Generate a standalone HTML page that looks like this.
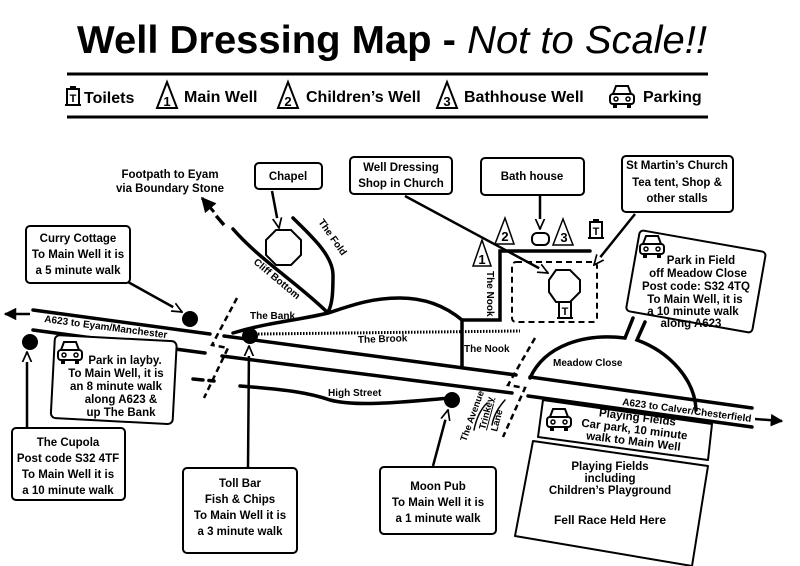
<!DOCTYPE html>
<html><head><meta charset="utf-8"><style>
html,body{margin:0;padding:0;background:#fff;}
svg{display:block;font-family:"Liberation Sans",Arial,sans-serif;}
text{font-weight:bold;fill:#000;}
</style></head><body>
<svg width="800" height="566" viewBox="0 0 800 566" xmlns="http://www.w3.org/2000/svg">
<defs>
<marker id="ah" viewBox="0 0 10 10" refX="9" refY="5" markerWidth="5" markerHeight="5" orient="auto"><path d="M0,0 L10,5 L0,10 z" fill="#000"/></marker>
<marker id="ao" viewBox="0 0 10 10" refX="9" refY="5" markerWidth="4.5" markerHeight="4.5" orient="auto"><path d="M0,1 L9,5 L0,9" fill="#fff" stroke="#000" stroke-width="1.5"/></marker>
<g id="car"><rect x="2" y="10" width="24" height="10" rx="3" fill="#fff" stroke="#000" stroke-width="2"/><path d="M5,10 L8,2 H20 L23,10" fill="none" stroke="#000" stroke-width="2"/><circle cx="8" cy="15" r="2" fill="none" stroke="#000" stroke-width="1.5"/><circle cx="20" cy="15" r="2" fill="none" stroke="#000" stroke-width="1.5"/><rect x="5" y="20" width="4" height="4" fill="#000"/><rect x="19" y="20" width="4" height="4" fill="#000"/></g>
<g id="loo"><rect x="1" y="3" width="12" height="16" fill="#fff" stroke="#000" stroke-width="2"/><rect x="4" y="0" width="6" height="3" fill="#000"/><rect x="-1" y="18" width="16" height="2" fill="#000"/><text x="7" y="16" font-size="11" text-anchor="middle">T</text></g>
</defs>

<!-- Header -->
<text x="77" y="53" font-size="39" textLength="630" lengthAdjust="spacingAndGlyphs">Well Dressing Map - <tspan font-style="italic" font-weight="normal">Not to Scale!!</tspan></text>
<line x1="67" y1="74" x2="708" y2="74" stroke="#000" stroke-width="3"/>
<line x1="67" y1="117" x2="708" y2="117" stroke="#000" stroke-width="3"/>
<use href="#loo" transform="translate(66,86)"/>
<text x="84" y="103" font-size="16">Toilets</text>
<polygon points="167,82 157,108 177,108" fill="#fff" stroke="#000" stroke-width="2"/><text x="167" y="106" font-size="13" text-anchor="middle">1</text>
<text x="184" y="102" font-size="16">Main Well</text>
<polygon points="288,82 278,108 298,108" fill="#fff" stroke="#000" stroke-width="2"/><text x="288" y="106" font-size="13" text-anchor="middle">2</text>
<text x="306" y="102" font-size="16">Children’s Well</text>
<polygon points="447,82 437,108 457,108" fill="#fff" stroke="#000" stroke-width="2"/><text x="447" y="106" font-size="13" text-anchor="middle">3</text>
<text x="464" y="102" font-size="16">Bathhouse Well</text>
<use href="#car" transform="translate(608,84)"/>
<text x="643" y="102" font-size="16">Parking</text>

<g stroke="#000" stroke-width="3.5" fill="none" stroke-linecap="round">
<path d="M33,310 L210,334 M224,336 L516,375 M530,377 L752,408"/>
<path d="M33,330 L205,353 M222,356 L512,393 M528,396 L752,427"/>
<path d="M193,379 L214,381" stroke-dasharray="10 6"/>
<path d="M240,386 C290,390 310,393 330,400 C360,408 420,400 452,398"/>
<path d="M233,333 C270,322 300,320 328,313 C350,306 370,298 400,298 C430,298 450,310 462,320 L462,366"/>
<path d="M462,320 L500,320 L500,251 L590,251"/>
<path d="M233,229 C260,260 300,285 328,313"/>
<path d="M293,218 C310,235 333,255 333,275 C333,295 332,305 328,312"/>
<path d="M530,378 C545,345 585,333 625,338 L633,318"/>
<path d="M645,322 L637,340 C670,352 695,380 696,410"/>
<path d="M487,403 C480,410 476,420 474,430" stroke-width="1.5"/>
<path d="M505,400 C498,408 494,415 492,425" stroke-width="1.5"/>
</g>
<line x1="224" y1="225" x2="212" y2="211" stroke="#000" stroke-width="3.5" stroke-dasharray="12 8"/>
<line x1="214" y1="212" x2="202" y2="198" stroke="#000" stroke-width="3" marker-end="url(#ah)"/>
<path d="M258,334 L520,331" stroke="#000" stroke-width="3" stroke-dasharray="1.5 1.5" fill="none"/>
<g stroke="#000" stroke-width="2.5" fill="none" stroke-dasharray="6 4">
<path d="M237,298 L212,345 L228,348 L204,398"/>
<path d="M535,338 L508,385 L525,388 L503,437"/>
</g>
<line x1="30" y1="314" x2="5" y2="314" stroke="#000" stroke-width="2.5" marker-end="url(#ah)"/>
<line x1="755" y1="419" x2="782" y2="421" stroke="#000" stroke-width="2.5" marker-end="url(#ah)"/>
<text font-size="10" transform="translate(44,322) rotate(7.5)">A623 to Eyam/Manchester</text>
<text font-size="10" transform="translate(622,405) rotate(7.5)">A623 to Calver/Chesterfield</text>
<text font-size="10" x="250" y="319">The Bank</text>
<text font-size="10" transform="translate(358,343) rotate(-2)">The Brook</text>
<text font-size="10" x="464" y="352">The Nook</text>
<text font-size="10" x="328" y="396">High Street</text>
<text font-size="10" x="553" y="366">Meadow Close</text>
<text font-size="10" transform="translate(253,263) rotate(40)">Cliff Bottom</text>
<text font-size="10" transform="translate(318,222) rotate(55)">The Fold</text>
<text font-size="10" transform="translate(487,271) rotate(90)">The Nook</text>
<text font-size="9.5" transform="translate(466,442) rotate(-70)">The Avenue</text>
<text font-size="9.5" text-decoration="underline" transform="translate(485,430) rotate(-75)">Trinkey</text>
<text font-size="9.5" transform="translate(497,432) rotate(-75)">Lane</text>

<circle cx="190" cy="319" r="8" fill="#000"/>
<circle cx="30" cy="342" r="8" fill="#000"/>
<circle cx="250" cy="336" r="8" fill="#000"/>
<circle cx="452" cy="400" r="8" fill="#000"/>

<text font-size="11.5" x="170" y="178" text-anchor="middle">Footpath to Eyam</text>
<text font-size="11.5" x="170" y="192" text-anchor="middle">via Boundary Stone</text>

<rect x="255" y="163" width="67" height="26" rx="4" fill="#fff" stroke="#000" stroke-width="2"/>
<text font-size="11.5" x="288" y="180" text-anchor="middle">Chapel</text>
<line x1="272" y1="191" x2="279" y2="228" stroke="#000" stroke-width="2.5" marker-end="url(#ao)"/>
<polygon points="276,230 291,230 301,240 301,255 291,265 276,265 266,255 266,240" fill="#fff" stroke="#000" stroke-width="2"/>

<rect x="350" y="157" width="102" height="37" rx="4" fill="#fff" stroke="#000" stroke-width="2"/>
<text font-size="11.5" x="401" y="171" text-anchor="middle">Well Dressing</text>
<text font-size="11.5" x="401" y="187" text-anchor="middle">Shop in Church</text>
<line x1="405" y1="196" x2="548" y2="273" stroke="#000" stroke-width="2.5" marker-end="url(#ao)"/>

<rect x="481" y="158" width="103" height="37" rx="4" fill="#fff" stroke="#000" stroke-width="2"/>
<text font-size="11.5" x="532" y="180" text-anchor="middle">Bath house</text>
<line x1="540" y1="196" x2="540" y2="229" stroke="#000" stroke-width="2.5" marker-end="url(#ao)"/>
<rect x="532" y="233" width="17" height="12" rx="5" fill="#fff" stroke="#000" stroke-width="2"/>
<polygon points="482,240 473,266 491,266" fill="#fff" stroke="#000" stroke-width="1.5"/><text font-size="13" x="482" y="264" text-anchor="middle" font-weight="normal">1</text>
<polygon points="505,218 495,244 514,244" fill="#fff" stroke="#000" stroke-width="1.5"/><text font-size="13" x="505" y="241" text-anchor="middle" font-weight="normal">2</text>
<polygon points="563,219 553,245 573,245" fill="#fff" stroke="#000" stroke-width="1.5"/><text font-size="13" x="564" y="242" text-anchor="middle" font-weight="normal">3</text>
<use href="#loo" transform="translate(589,219)"/>
<use href="#loo" transform="translate(558,299)"/>
<rect x="512" y="262" width="85" height="60" rx="4" fill="none" stroke="#000" stroke-width="2" stroke-dasharray="6 4"/>
<polygon points="556,270 570,270 580,280 580,292 570,302 556,302 549,292 549,280" fill="#fff" stroke="#000" stroke-width="2"/>

<rect x="622" y="156" width="111" height="56" rx="4" fill="#fff" stroke="#000" stroke-width="2"/>
<text font-size="11.5" x="677" y="169" text-anchor="middle">St Martin’s Church</text>
<text font-size="11.5" x="677" y="186" text-anchor="middle">Tea tent, Shop &amp;</text>
<text font-size="11.5" x="677" y="202" text-anchor="middle">other stalls</text>
<line x1="635" y1="214" x2="594" y2="265" stroke="#000" stroke-width="2.5" marker-end="url(#ao)"/>

<g transform="translate(640,230) rotate(10)">
<rect x="0" y="0" width="128" height="82" rx="4" fill="#fff" stroke="#000" stroke-width="2"/>
</g>
<use href="#car" transform="translate(638,234)"/>
<g font-size="11.5" text-anchor="middle">
<text x="701" y="264">Park in Field</text>
<text x="698" y="277">off Meadow Close</text>
<text x="696" y="290">Post code: S32 4TQ</text>
<text x="695" y="303">To Main Well, it is</text>
<text x="693" y="315">a 10 minute walk</text>
<text x="691" y="327">along A623</text>
</g>

<rect x="26" y="226" width="104" height="57" rx="4" fill="#fff" stroke="#000" stroke-width="2"/>
<g font-size="11.5" text-anchor="middle">
<text x="78" y="242">Curry Cottage</text>
<text x="78" y="258">To Main Well it is</text>
<text x="78" y="274">a 5 minute walk</text>
</g>
<line x1="128" y1="282" x2="182" y2="312" stroke="#000" stroke-width="2.5" marker-end="url(#ao)"/>

<g transform="translate(55,335) rotate(3)"><rect x="0" y="0" width="122" height="83" rx="5" fill="#fff" stroke="#000" stroke-width="2"/></g>
<use href="#car" transform="translate(56,340)"/>
<g font-size="11.5" text-anchor="middle">
<text x="125" y="364">Park in layby.</text>
<text x="116" y="377">To Main Well, it is</text>
<text x="116" y="390">an 8 minute walk</text>
<text x="121" y="403">along A623 &amp;</text>
<text x="121" y="416">up The Bank</text>
</g>

<rect x="12" y="428" width="113" height="72" rx="4" fill="#fff" stroke="#000" stroke-width="2"/>
<g font-size="11.5" text-anchor="middle">
<text x="68" y="446">The Cupola</text>
<text x="68" y="462">Post code S32 4TF</text>
<text x="68" y="478">To Main Well it is</text>
<text x="68" y="494">a 10 minute walk</text>
</g>
<line x1="27" y1="427" x2="27" y2="352" stroke="#000" stroke-width="2.5" marker-end="url(#ao)"/>

<rect x="183" y="468" width="114" height="85" rx="4" fill="#fff" stroke="#000" stroke-width="2"/>
<g font-size="11.5" text-anchor="middle">
<text x="240" y="487">Toll Bar</text>
<text x="240" y="503">Fish &amp; Chips</text>
<text x="240" y="519">To Main Well it is</text>
<text x="240" y="535">a 3 minute walk</text>
</g>
<line x1="248" y1="467" x2="249" y2="346" stroke="#000" stroke-width="2.5" marker-end="url(#ao)"/>

<rect x="380" y="467" width="116" height="67" rx="4" fill="#fff" stroke="#000" stroke-width="2"/>
<g font-size="11.5" text-anchor="middle">
<text x="438" y="490">Moon Pub</text>
<text x="438" y="506">To Main Well it is</text>
<text x="438" y="522">a 1 minute walk</text>
</g>
<line x1="433" y1="466" x2="448" y2="410" stroke="#000" stroke-width="2.5" marker-end="url(#ao)"/>

<polygon points="543,400 712,424 708,460 538,437" fill="#fff" stroke="#000" stroke-width="2" stroke-linejoin="round"/>
<use href="#car" transform="translate(545,407)"/>
<g font-size="11.5" text-anchor="middle">
<text transform="translate(637,421) rotate(7)">Playing Fields</text>
<text transform="translate(634,433) rotate(7)">Car park, 10 minute</text>
<text transform="translate(633,445) rotate(7)">walk to Main Well</text>
</g>

<polygon points="533,441 708,466 692,566 515,536" fill="#fff" stroke="#000" stroke-width="2" stroke-linejoin="round"/>
<g font-size="11.5" text-anchor="middle">
<text x="610" y="470">Playing Fields</text>
<text x="610" y="482">including</text>
<text x="610" y="494">Children’s Playground</text>
<text x="610" y="524" font-size="12">Fell Race Held Here</text>
</g>
</svg>
</body></html>
